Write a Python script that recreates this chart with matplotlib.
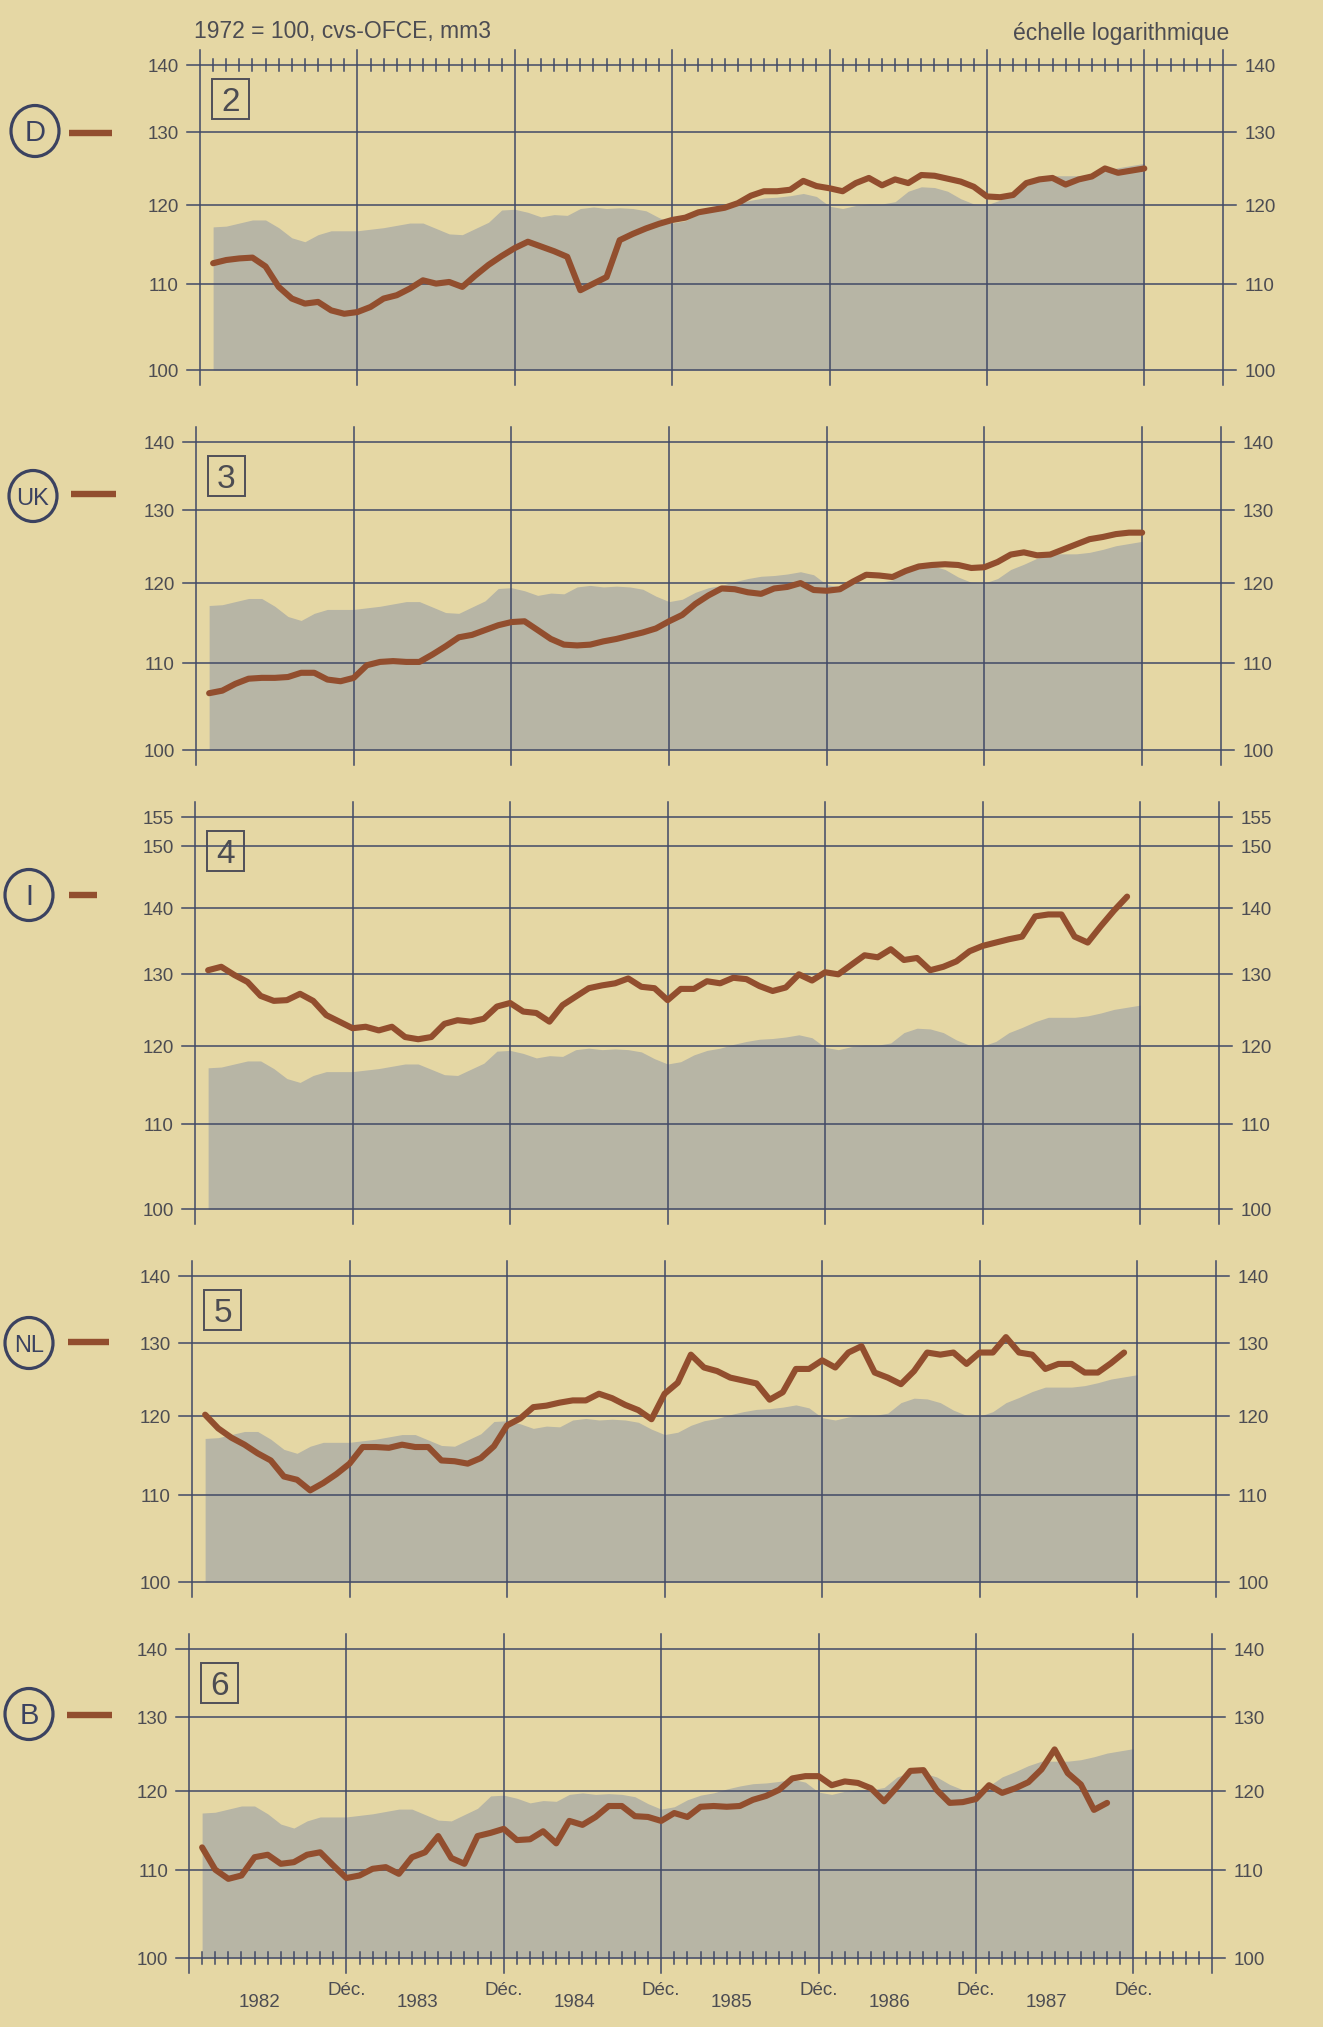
import numpy as np
import matplotlib
matplotlib.use("Agg")
import matplotlib.pyplot as plt
from matplotlib import font_manager
from matplotlib.patches import Ellipse, Rectangle
from matplotlib.transforms import blended_transform_factory, ScaledTranslation

# ---------------------------------------------------------------------------
# Industrial production, 1972 = 100, seasonally adjusted, 3-month moving avg.
# Monthly values from January 1982; the shaded area is the common reference.
# ---------------------------------------------------------------------------
reference_area = [117.1, 117.2, 117.6, 118.0, 118.0, 117.0, 115.7, 115.2, 116.1, 116.6,
                  116.6, 116.6, 116.8, 117.0, 117.3, 117.6, 117.6, 116.9, 116.2, 116.1,
                  116.9, 117.7, 119.3, 119.4, 119.0, 118.4, 118.7, 118.6, 119.5, 119.7,
                  119.5, 119.6, 119.5, 119.2, 118.3, 117.6, 117.9, 118.8, 119.4, 119.7,
                  120.2, 120.6, 120.9, 121.0, 121.2, 121.5, 121.1, 119.8, 119.5, 119.9,
                  120.1, 120.1, 120.4, 121.8, 122.4, 122.3, 121.8, 120.8, 120.1, 120.0,
                  120.6, 121.8, 122.5, 123.3, 123.9, 123.9, 123.9, 124.1, 124.5, 125.0,
                  125.3, 125.6]

germany = [112.5, 112.9, 113.1, 113.2, 112.1, 109.6, 108.2, 107.6, 107.8, 106.8,
           106.4, 106.6, 107.2, 108.2, 108.6, 109.4, 110.4, 110.0, 110.2, 109.6,
           111.0, 112.3, 113.4, 114.4, 115.2, 114.6, 114.0, 113.3, 109.2, 110.0,
           110.8, 115.4, 116.2, 116.9, 117.5, 118.0, 118.3, 119.0, 119.3, 119.6,
           120.2, 121.2, 121.8, 121.8, 122.0, 123.2, 122.5, 122.2, 121.8, 122.9,
           123.6, 122.6, 123.4, 122.9, 124.0, 123.9, 123.5, 123.1, 122.4, 121.1,
           121.0, 121.3, 122.9, 123.4, 123.6, 122.7, 123.4, 123.8, 124.9, 124.3,
           124.6, 124.9]

united_kingdom = [106.4, 106.7, 107.5, 108.1, 108.2, 108.2, 108.3, 108.8, 108.8, 108.0,
                  107.8, 108.2, 109.7, 110.1, 110.2, 110.1, 110.1, 111.0, 112.0, 113.1,
                  113.4, 114.0, 114.6, 115.0, 115.1, 114.0, 112.9, 112.2, 112.1, 112.2,
                  112.6, 112.9, 113.3, 113.7, 114.2, 115.1, 115.9, 117.3, 118.4, 119.3,
                  119.2, 118.8, 118.6, 119.3, 119.5, 120.0, 119.1, 119.0, 119.2, 120.2,
                  121.1, 121.0, 120.8, 121.6, 122.2, 122.4, 122.5, 122.4, 122.0, 122.1,
                  122.8, 123.8, 124.1, 123.7, 123.8, 124.5, 125.2, 125.9, 126.2, 126.6,
                  126.8, 126.8]

italy = [130.6, 131.1, 129.9, 128.9, 126.9, 126.2, 126.3, 127.2, 126.2, 124.2,
         123.3, 122.4, 122.6, 122.1, 122.6, 121.2, 120.9, 121.2, 123.0, 123.5,
         123.3, 123.7, 125.4, 125.9, 124.7, 124.5, 123.3, 125.6, 126.8, 128.0,
         128.4, 128.7, 129.4, 128.2, 128.0, 126.3, 127.9, 127.9, 129.0, 128.7,
         129.5, 129.3, 128.3, 127.6, 128.1, 130.0, 129.1, 130.3, 130.0, 131.4,
         132.8, 132.5, 133.7, 132.1, 132.4, 130.6, 131.1, 131.9, 133.4, 134.2,
         134.7, 135.2, 135.6, 138.7, 139.0, 139.0, 135.6, 134.7, 137.2, 139.6,
         141.8]

netherlands = [120.2, 118.4, 117.2, 116.3, 115.2, 114.3, 112.3, 111.9, 110.6, 111.5,
               112.6, 113.9, 116.0, 116.0, 115.9, 116.3, 116.0, 116.0, 114.3, 114.2,
               113.9, 114.6, 116.1, 118.8, 119.7, 121.2, 121.4, 121.8, 122.1, 122.1,
               123.0, 122.4, 121.5, 120.8, 119.6, 123.0, 124.5, 128.4, 126.6, 126.1,
               125.2, 124.8, 124.4, 122.2, 123.2, 126.4, 126.4, 127.6, 126.6, 128.7,
               129.6, 125.9, 125.2, 124.3, 126.1, 128.7, 128.4, 128.7, 127.1, 128.7,
               128.7, 130.9, 128.7, 128.4, 126.4, 127.1, 127.1, 125.9, 125.9, 127.2,
               128.7]

belgium = [112.8, 110.1, 109.0, 109.4, 111.6, 111.9, 110.8, 111.0, 111.9, 112.2,
           110.6, 109.1, 109.4, 110.2, 110.4, 109.6, 111.6, 112.2, 114.2, 111.5,
           110.8, 114.2, 114.6, 115.1, 113.7, 113.8, 114.8, 113.3, 116.1, 115.6,
           116.6, 118.0, 118.0, 116.7, 116.6, 116.1, 117.1, 116.6, 117.9, 118.0,
           117.9, 118.0, 118.8, 119.3, 120.1, 121.6, 121.9, 121.9, 120.7, 121.2,
           121.0, 120.3, 118.6, 120.5, 122.6, 122.7, 120.1, 118.4, 118.5, 118.9,
           120.7, 119.7, 120.3, 121.1, 122.8, 125.5, 122.3, 120.8, 117.5, 118.4]

country_codes = ["D", "UK", "I", "NL", "B"]
chart_numbers = [2, 3, 4, 5, 6]
country_series = [germany, united_kingdom, italy, netherlands, belgium]
standard_ticks = [100, 110, 120, 130, 140]
italy_ticks = [100, 110, 120, 130, 140, 150, 155]
year_labels = ["1982", "1983", "1984", "1985", "1986", "1987"]
december_label = "Déc."
title_left = "1972 = 100, cvs-OFCE, mm3"
title_right = "échelle logarithmique"

# ---------------------------------------------------------------------------
# Styling
# ---------------------------------------------------------------------------
BG = "#e5d7a4"
FILL = "#b7b5a5"
GRID = "#414966"
BROWN = "#924e2e"
INK = "#4c4c52"
NAVY = "#3b4260"

plt.rcParams["font.family"] = ["Liberation Sans", "DejaVu Sans"]
available = {f.name for f in font_manager.fontManager.ttflist}
NARROW = "Liberation Sans Narrow" if "Liberation Sans Narrow" in available else "Liberation Sans"

W, H = 1323, 2027
fig = plt.figure(figsize=(W / 100, H / 100), dpi=100, facecolor=BG)

# overlay in pixel units for the side markers
over = fig.add_axes([0, 0, 1, 1])
over.set_xlim(0, W)
over.set_ylim(H, 0)
over.axis("off")


def shifted(trans, dx=0.0, dy=0.0):
    """Offset a transform by dx, dy screen pixels (dy upwards)."""
    return trans + ScaledTranslation(dx / 100, dy / 100, fig.dpi_scale_trans)


# panel frames: left, right, top, bottom in pixels
frames = [(200, 1223, 65, 370),
          (196, 1221, 442, 750),
          (195, 1219, 817, 1209),
          (192, 1216, 1276, 1582),
          (189, 1212, 1649, 1958)]
# side markers: circle centre and dash extent
markers = [((35, 131), (69, 112, 133)),
           ((33, 496), (71, 116, 494)),
           ((29, 895), (69, 97, 895)),
           ((29, 1343), (68, 109, 1342)),
           ((29, 1714), (67, 112, 1715))]

X_MAX = 78  # June 1988, x measured in months from December 1981
dec_positions = list(range(0, 73, 12)) + [X_MAX]
TICK_FS = 13.5

for idx, (code, num, series, frame, marker) in enumerate(
        zip(country_codes, chart_numbers, country_series, frames, markers)):
    l, r, t, b = frame
    wpx, hpx = r - l, b - t
    ticks = italy_ticks if code == "I" else standard_ticks
    ax = fig.add_axes([l / W, 1 - b / H, wpx / W, hpx / H])
    ax.set_facecolor("none")
    ax.set_yscale("log")
    ax.set_xlim(0, X_MAX)
    ax.set_ylim(100, max(ticks))
    ax.set_xticks([])
    ax.set_yticks([])
    ax.yaxis.set_minor_locator(matplotlib.ticker.NullLocator())
    for s in ax.spines.values():
        s.set_visible(False)

    hy = blended_transform_factory(ax.transAxes, ax.transData)
    vx = blended_transform_factory(ax.transData, ax.transAxes)

    # shaded reference
    x_ref = np.arange(1, len(reference_area) + 1)
    ax.fill_between(x_ref, reference_area, 100, color=FILL, lw=0, zorder=1)

    # horizontal grid and labels on both sides
    ex, ey = 13 / wpx, 15 / hpx
    for v in ticks:
        ax.plot([-ex, 1 + ex], [v, v], transform=hy, color=GRID, lw=1.1,
                clip_on=False, zorder=2)
        ax.text(0, v, str(v), transform=shifted(hy, -21, -7), ha="right",
                va="baseline", fontsize=TICK_FS, color=INK)
        ax.text(1, v, str(v), transform=shifted(hy, 22, -7), ha="left",
                va="baseline", fontsize=TICK_FS, color=INK)
    # vertical grid at each December plus frame edges
    for m in dec_positions:
        ax.plot([m, m], [-ey, 1 + ey], transform=vx, color=GRID, lw=1.1,
                clip_on=False, zorder=2)

    # monthly ticks on the outer edges of the stack
    if idx in (0, len(frames) - 1):
        yedge = 1.0 if idx == 0 else 0.0
        for m in range(1, X_MAX):
            if m % 12:
                ax.plot([m, m], [yedge - 6 / hpx, yedge + 6 / hpx], transform=vx,
                        color=GRID, lw=1.1, clip_on=False, zorder=2)

    # country series
    x_c = np.arange(1, len(series) + 1)
    ax.plot(x_c, series, color=BROWN, lw=4.4, solid_joinstyle="round",
            solid_capstyle="round", zorder=3, clip_on=False)

    # numbered box
    over.add_patch(Rectangle((l + 12, t + 14), 37, 40, fill=False,
                             ec="#4f4f58", lw=1.4))
    over.text(l + 12 + 18.5, t + 14 + 32, str(num), ha="center", va="baseline",
              fontsize=24, color=INK)

    # side marker: circled code and a short dash in the line colour
    (cx, cy), (dx0, dx1, dy) = marker
    over.add_patch(Ellipse((cx, cy), 48, 51, fill=False, ec=NAVY, lw=2.3))
    if len(code) == 1:
        over.text(cx, cy + 10, code, ha="center", va="baseline",
                  fontsize=21, family=NARROW, color=NAVY)
    else:
        over.text(cx, cy + 9, code, ha="center", va="baseline",
                  fontsize=17, family=NARROW, color=NAVY)
    over.plot([dx0, dx1], [dy, dy], color=BROWN, lw=4.6, solid_capstyle="butt")

    # date axis below the last panel
    if idx == len(frames) - 1:
        for m in range(12, 73, 12):
            ax.text(m, 0, december_label, transform=shifted(vx, 0, -37),
                    ha="center", va="baseline", fontsize=TICK_FS, color=INK)
        for i, yl in enumerate(year_labels):
            ax.text(12 * i + 5.4, 0, yl, transform=shifted(vx, 0, -49),
                    ha="center", va="baseline", fontsize=TICK_FS, color=INK)

fig.text(194 / W, 1 - 38 / H, title_left, ha="left", va="baseline",
         fontsize=16.5, color=INK)
fig.text(1229 / W, 1 - 40 / H, title_right, ha="right", va="baseline",
         fontsize=16.5, color=INK)

fig.savefig("out.png", dpi=100, facecolor=BG)
